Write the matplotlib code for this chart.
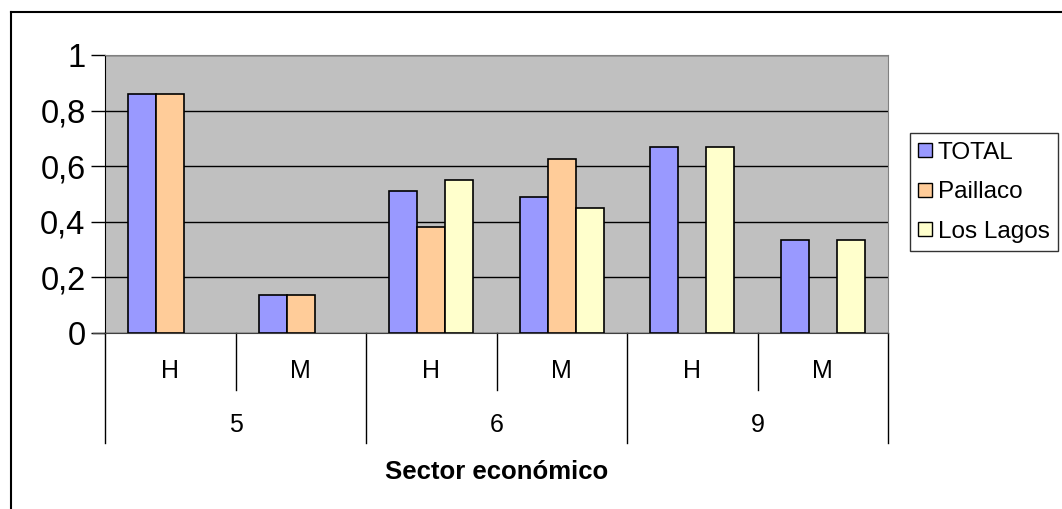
import matplotlib
matplotlib.use("Agg")
import matplotlib.pyplot as plt
from matplotlib.lines import Line2D
import numpy as np

plt.rcParams["font.family"] = ["Liberation Sans", "DejaVu Sans"]

# Data
sectors = ["5", "6", "9"]
genders = ["H", "M", "H", "M", "H", "M"]
series = ["TOTAL", "Paillaco", "Los Lagos"]
total = [0.86, 0.135, 0.51, 0.49, 0.67, 0.333]
paillaco = [0.86, 0.135, 0.38, 0.625, 0.0, 0.0]
los_lagos = [0.0, 0.0, 0.55, 0.45, 0.67, 0.333]
yticks = [0, 0.2, 0.4, 0.6, 0.8, 1]
ytick_labels = ["0", "0,2", "0,4", "0,6", "0,8", "1"]

COLORS = ["#9999FF", "#FFCC99", "#FFFFCC"]
GRAY = "#C0C0C0"

W, H = 1062, 509
fig = plt.figure(figsize=(W / 100, H / 100), dpi=100)
ax = fig.add_axes([105 / W, 1 - 333 / H, (888 - 105) / W, (333 - 55) / H])
ax.set_facecolor(GRAY)

x = np.arange(len(genders))
bw = 0.215
for i, (vals, col, name) in enumerate(zip([total, paillaco, los_lagos], COLORS, series)):
    v = np.array(vals)
    keep = v > 0
    ax.bar(x[keep] + (i - 1) * bw, v[keep], width=bw, color=col,
           edgecolor="black", linewidth=1.2, label=name, zorder=3)

ax.set_xlim(-0.5, len(genders) - 0.5)
ax.set_ylim(0, 1)
ax.set_yticks(yticks)
ax.set_yticklabels(ytick_labels, fontsize=23.5)
ax.yaxis.grid(True, color="black", linewidth=1)
ax.set_axisbelow(True)
ax.tick_params(axis="y", length=10, width=1, pad=4)
ax.set_xticks([])

for s in ["top", "right"]:
    ax.spines[s].set_color("#808080")
ax.spines["left"].set_color("black")
ax.spines["bottom"].set_color("#404040")

# multi-level category axis
tr = ax.get_xaxis_transform()
ax.plot([-0.5 - 0.09, -0.5], [0, 0], color="#404040", lw=1, transform=tr, clip_on=False)
for b in np.arange(-0.5, len(genders), 1.0):
    outer = (round(b + 0.5) % 2 == 0)
    y_end = -0.397 if outer else -0.205
    ax.plot([b, b], [0, y_end], color="black", lw=1, transform=tr, clip_on=False)
for xi, g in zip(x, genders):
    ax.text(xi, -0.135, g, ha="center", va="center", fontsize=18, transform=tr)
for j, s in enumerate(sectors):
    ax.text(2 * j + 0.5, -0.33, s, ha="center", va="center", fontsize=18, transform=tr)
ax.text(0.5, -0.5, "Sector económico", ha="center", va="center", fontsize=18.5,
        fontweight="bold", transform=ax.transAxes)

# legend
handles = [Line2D([0], [0], marker="s", linestyle="none", markersize=10,
                  markerfacecolor=c, markeredgecolor="black", markeredgewidth=1)
           for c in COLORS]
leg = fig.legend(handles, series, loc="upper left",
                 bbox_to_anchor=(910 / W, 1 - 133 / H), fontsize=17.5,
                 frameon=True, fancybox=False, edgecolor="black",
                 handlelength=0.55, handletextpad=0.25, borderpad=0.35,
                 labelspacing=0.72, borderaxespad=0)
leg.get_frame().set_linewidth(1)

# outer chart border (left and top visible)
fig.add_artist(Line2D([11 / W, 11 / W], [0, 1 - 12 / H], color="black", lw=1.5,
                      transform=fig.transFigure))
fig.add_artist(Line2D([11 / W, 1], [1 - 12 / H, 1 - 12 / H], color="black", lw=1.5,
                      transform=fig.transFigure))

fig.savefig("out.png", dpi=100, facecolor="white")
